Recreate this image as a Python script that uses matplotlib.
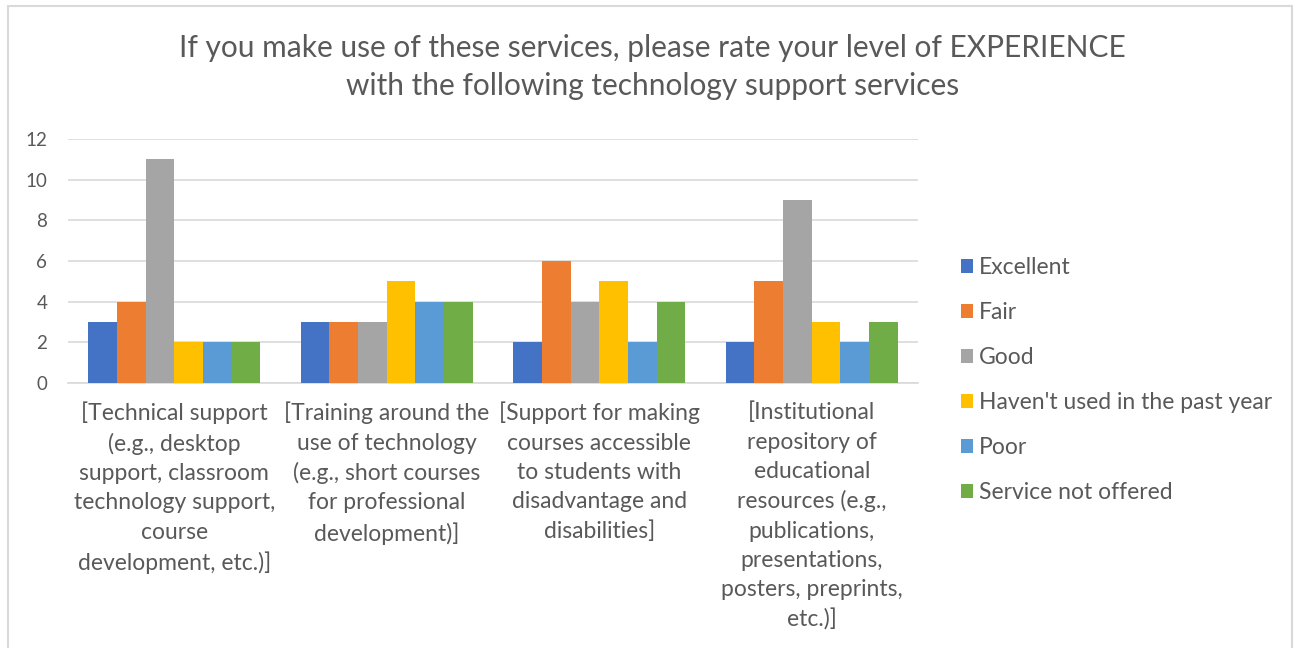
import numpy as np
import matplotlib.pyplot as plt
from matplotlib.patches import Rectangle

plt.rcParams['font.family'] = ['Lato', 'DejaVu Sans']

categories = [
    "[Technical support\n(e.g., desktop\nsupport, classroom\ntechnology support,\ncourse\ndevelopment, etc.)]",
    "[Training around the\nuse of technology\n(e.g., short courses\nfor professional\ndevelopment)]",
    "[Support for making\ncourses accessible\nto students with\ndisadvantage and\ndisabilities]",
    "[Institutional\nrepository of\neducational\nresources (e.g.,\npublications,\npresentations,\nposters, preprints,\netc.)]",
]
series_names = ["Excellent", "Fair", "Good", "Haven't used in the past year", "Poor", "Service not offered"]
excellent = [3, 3, 2, 2]
fair = [4, 3, 6, 5]
good = [11, 3, 4, 9]
havent_used = [2, 5, 5, 3]
poor = [2, 4, 2, 2]
not_offered = [2, 4, 4, 3]
series_values = [excellent, fair, good, havent_used, poor, not_offered]
colors = ['#4472C4', '#ED7D31', '#A5A5A5', '#FFC000', '#5B9BD5', '#70AD47']
text_color = '#595959'

fig = plt.figure(figsize=(12.97, 6.48), dpi=100)
ax = fig.add_axes([68 / 1297, 1 - 383 / 648, 850 / 1297, 244 / 648])

# chart border (Excel style)
fig.patches.append(Rectangle((8 / 1297, -0.05), 1284 / 1297, 1.05 - 6 / 648,
                             transform=fig.transFigure, fill=False,
                             edgecolor='#D9D9D9', linewidth=1.5))

x = np.arange(len(categories))
width = 0.135
for i, (name, vals) in enumerate(zip(series_names, series_values)):
    ax.bar(x + (i - 2.5) * width, vals, width, color=colors[i], label=name, zorder=3)

ax.set_xlim(-0.5, 3.5)
ax.set_ylim(0, 12)
ax.set_yticks(range(0, 13, 2))
ax.yaxis.grid(True, color='#D9D9D9', linewidth=1.2, zorder=0)
for s in ['top', 'right', 'left']:
    ax.spines[s].set_visible(False)
ax.spines['bottom'].set_color('#D9D9D9')
ax.spines['bottom'].set_linewidth(1.2)
ax.tick_params(axis='y', length=0, labelsize=13.5, labelcolor=text_color, pad=15)
ax.tick_params(axis='x', length=0, labelsize=16.5, labelcolor=text_color, pad=13.5)
ax.set_xticks(x)
ax.set_xticklabels(categories, linespacing=1.48)

fig.text(0.503, 1 - 67 / 648,
         "If you make use of these services, please rate your level of EXPERIENCE\nwith the following technology support services",
         ha='center', va='center', fontsize=21.5, color=text_color, linespacing=1.4)

ax.legend(loc='center left', bbox_to_anchor=(940 / 1297, 1 - 380 / 648),
          bbox_transform=fig.transFigure, frameon=False, fontsize=16.5,
          labelcolor=text_color, handlelength=0.55, handleheight=0.55,
          handletextpad=0.25, labelspacing=1.05)

fig.savefig('out.png', dpi=100)
